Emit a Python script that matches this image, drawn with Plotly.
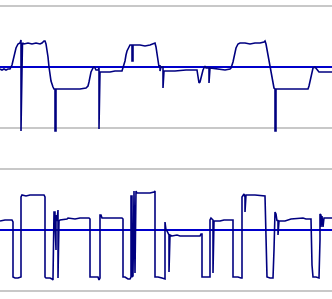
import plotly.graph_objects as go

# Upper trace: sample index and amplitude (grid lines at +/-61)
top_t = [0, 2, 4, 6, 8, 10, 12, 14, 16, 18, 20, 21, 21, 22, 22.5, 24, 28, 32, 36, 40, 42, 44, 45, 46, 47, 48, 49, 50, 51, 53, 54, 55, 55, 56, 56, 60, 70, 80, 86, 88, 89, 90, 91, 93, 94, 95, 96, 98, 99, 99, 100, 110, 115, 122, 123, 124, 125, 126, 127, 129, 130, 132, 132, 133, 133, 140, 145, 150, 154, 155, 156, 157, 158, 159, 160, 160, 161, 163, 163, 164, 175, 186, 197, 198, 199, 200, 201, 203, 205, 206, 209, 209, 210, 222, 225, 230, 231, 233, 234, 235, 236, 238, 240, 245, 250, 255, 260, 264, 265, 266, 267, 268, 269, 270, 271, 272, 273, 274, 275, 275, 276, 276, 290, 308, 309, 310, 311, 312, 313, 315, 317, 319, 332]
top_v = [-2, -3, -2, -3, -2, -2, 2, 10, 19, 23, 24, 27, -64, -3, 24, 23, 24, 23, 24, 23, 24, 26, 26, 23, 17, 10, 0, -8, -14, -20, -22, -22, -64, -64, -22, -22, -22, -22, -21, -19, -15, -11, -5, -1, 0, -1, -3, -3, -1, -62, -5, -5, -4, -4, -1, 2, 6, 12, 16, 20, 22, 22, 6, 6, 22, 22, 21, 22, 23, 24, 20, 12, 2, 0, 2, -4, 0, 0, -21, -4, -4, -3, -3, -9, -16, -15, -10, -3, 1, -1, -1, -16, -1, -2, -3, -2, -1, 5, 9, 15, 19, 23, 24, 24, 23, 24, 24, 25, 26, 23, 17, 12, 6, 0, -7, -13, -19, -21, -22, -64, -64, -22, -22, -22, -19, -14, -8, -4, -1, 0, -2, -5, -5]

# Lower trace: sample index and amplitude (grid lines at +/-61)
bot_t = [0, 5, 12, 13, 13, 15, 18, 20, 21, 21, 22, 26, 30, 40, 44, 45, 45, 46, 50, 52, 53, 53, 54, 55, 55, 56, 56, 57, 58, 58, 59, 60, 67, 68, 75, 80, 89, 90, 90, 95, 98, 99, 100, 100, 101, 102, 110, 122, 123, 123, 125, 128, 130, 131, 131, 132, 132, 133, 134, 135, 136, 137, 145, 150, 154, 155, 155, 158, 162, 164, 165, 165, 166, 167, 168, 169, 169, 170, 172, 177, 180, 200, 201, 202, 202, 205, 210, 210, 211, 213, 213, 214, 220, 224, 233, 233, 238, 241, 242, 242, 243, 244, 245, 245, 246, 255, 265, 266, 267, 270, 273, 274, 275, 276, 277, 278, 278, 279, 285, 291, 303, 306, 311, 312, 313, 316, 319, 320, 320, 321, 321, 322, 323, 324, 332]
bot_v = [9, 10, 10, 8, -47, -48, -48, -47, -47, 33, 35, 34, 35, 35, 35, 33, -47, -48, -48, -49, -50, -48, 18, 18, 9, -20, 15, 9, 20, -48, 9, 10, 11, 12, 11, 12, 12, 11, -47, -47, -47, -50, -48, 15, 15, 12, 12, 12, 11, -47, -47, -49, -49, -47, 34, 34, -47, -46, 39, -43, 39, 37, 37, 37, 38, 39, -47, -47, -48, -49, -49, 8, 0, -1, -3, -5, -42, -5, -6, -5, -6, -6, -4, -4, -47, -47, -47, 10, 12, 10, -43, 9, 9, 10, 10, -47, -47, -48, -48, 33, 35, 36, 33, 18, 35, 35, 34, -25, -47, -48, -48, -20, 18, 16, 9, 10, -5, 9, 9, 11, 12, 11, 11, -35, -47, -47, -48, -10, 16, 15, 3, 14, 3, 12, 12]

grid_vals = [-61, 61]
navy = "#000080"
blue = "#0000CC"
grid = "#C8C8C8"

fig = go.Figure()
fig.add_trace(go.Scatter(x=top_t, y=top_v, mode="lines",
                         line=dict(color=navy, width=1.6), xaxis="x", yaxis="y",
                         hoverinfo="skip"))
fig.add_trace(go.Scatter(x=bot_t, y=bot_v, mode="lines",
                         line=dict(color=navy, width=1.6), xaxis="x2", yaxis="y2",
                         hoverinfo="skip"))

ax_common = dict(showgrid=False, zeroline=False, showticklabels=False,
                 showline=False, ticks="", range=[0, 332], fixedrange=True)
yax_common = dict(showgrid=True, gridcolor=grid, gridwidth=1.5,
                  tickvals=grid_vals, showticklabels=False, ticks="",
                  zeroline=True, zerolinecolor=blue, zerolinewidth=1.5,
                  showline=False, fixedrange=True)

fig.update_layout(
    width=332, height=299,
    margin=dict(l=0, r=0, t=0, b=0, pad=0),
    paper_bgcolor="white", plot_bgcolor="white",
    showlegend=False,
    xaxis=dict(**ax_common, domain=[0, 1], anchor="y"),
    xaxis2=dict(**ax_common, domain=[0, 1], anchor="y2"),
    yaxis=dict(**yax_common, domain=[0.5, 1], range=[-82.5, 67], anchor="x"),
    yaxis2=dict(**yax_common, domain=[0, 0.5], range=[-69, 80.5], anchor="x2"),
)

fig.write_html("out.html", config={"displayModeBar": False, "staticPlot": True})
